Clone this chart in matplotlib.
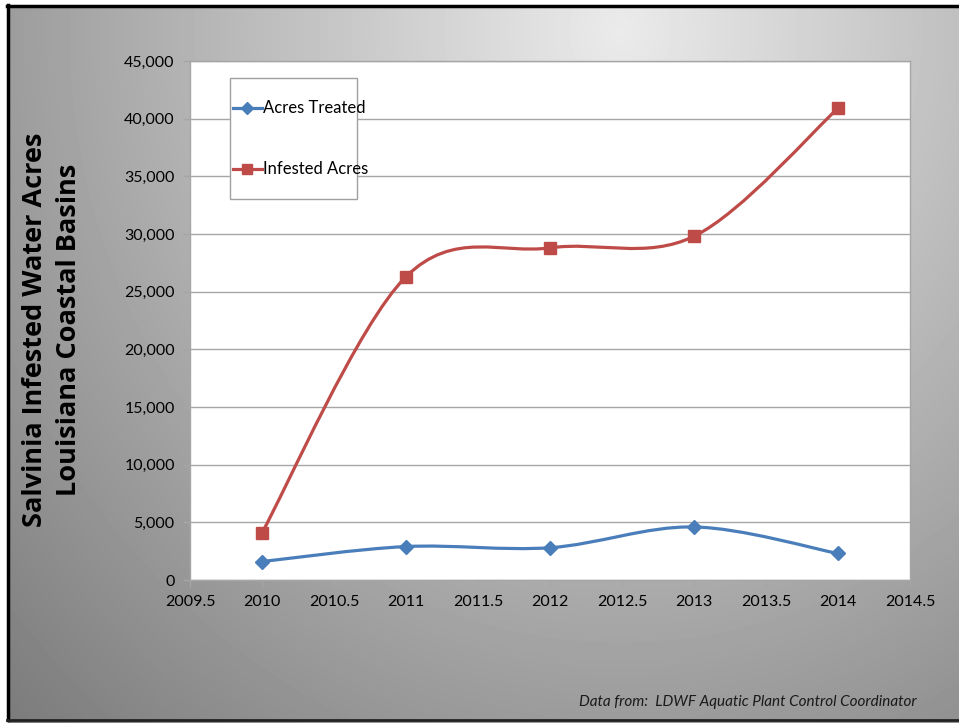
import numpy as np
import matplotlib
matplotlib.use("Agg")
import matplotlib.pyplot as plt
from matplotlib.path import Path
from matplotlib.patches import PathPatch, Rectangle

years = [2010, 2011, 2012, 2013, 2014]
acres_treated = [1600, 2900, 2800, 4600, 2300]
infested_acres = [4100, 26300, 28800, 29800, 40900]
series_names = ["Acres Treated", "Infested Acres"]
y_ticks = list(range(0, 45001, 5000))
x_ticks = [2009.5, 2010, 2010.5, 2011, 2011.5, 2012, 2012.5, 2013, 2013.5, 2014, 2014.5]

BLUE = "#4a7ebb"
RED = "#be4b48"
GRID = "#a6a6a6"

plt.rcParams["font.family"] = ["Lato", "DejaVu Sans"]


def smooth_path(xs, ys):
    # excel-like smoothed line: cubic bezier with catmull-rom control points
    pts = np.column_stack([xs, ys]).astype(float)
    ext = np.vstack([pts[0], pts, pts[-1]])
    verts = [tuple(pts[0])]
    codes = [Path.MOVETO]
    for i in range(1, len(ext) - 2):
        p0, p1, p2, p3 = ext[i - 1], ext[i], ext[i + 1], ext[i + 2]
        c1 = p1 + (p2 - p0) / 6.0
        c2 = p2 - (p3 - p1) / 6.0
        verts += [tuple(c1), tuple(c2), tuple(p2)]
        codes += [Path.CURVE4] * 3
    return Path(verts, codes)


fig = plt.figure(figsize=(9.59, 7.23), dpi=100)
fig.patch.set_facecolor("white")

# gradient background
bg = fig.add_axes([0, 0, 1, 1])
W, H = 959, 723
gx, gy = np.meshgrid(np.arange(W), np.arange(H))
r = np.sqrt(((gx - 620) / 900.0) ** 2 + ((gy - 30) / 1000.0) ** 2)
val = np.clip(0.92 - 0.45 * r, 0, 1)
bg.imshow(val, cmap="gray", vmin=0, vmax=1, extent=[0, W, H, 0], aspect="auto")
bg.set_xlim(0, W)
bg.set_ylim(H, 0)
bg.axis("off")
# white margins and black frame
bg.add_patch(Rectangle((0, 0), 7, H, color="white", zorder=2))
bg.add_patch(Rectangle((0, 0), W, 5, color="white", zorder=2))
bg.plot([7.5, 7.5], [5, 720], color="black", lw=2.5, zorder=3)
bg.plot([7, W], [6, 6], color="black", lw=2.5, zorder=3)
bg.plot([7, W], [720, 720], color="#222222", lw=2, zorder=3)

ax = fig.add_axes([190 / W, 1 - 580 / H, 720 / W, 519 / H])
ax.set_facecolor("white")

styles = [(BLUE, "D", 7, 6), (RED, "s", 8, 7)]
for ys, (color, marker, ms, _) in zip([acres_treated, infested_acres], styles):
    ax.add_patch(PathPatch(smooth_path(years, ys), facecolor="none", edgecolor=color, lw=2.3, zorder=3))
    ax.plot(years, ys, linestyle="none", marker=marker, color=color, markersize=ms, zorder=4)

ax.set_xlim(2009.5, 2014.5)
ax.set_ylim(0, 45000)
ax.set_yticks(y_ticks)
ax.set_yticklabels([f"{v:,}" for v in y_ticks])
ax.set_xticks(x_ticks)
ax.set_xticklabels([f"{v:g}" for v in x_ticks])
ax.grid(axis="y", color=GRID, lw=1)
ax.set_axisbelow(True)
for s in ax.spines.values():
    s.set_color(GRID)
    s.set_linewidth(1)
ax.tick_params(axis="both", colors=GRID, labelcolor="black", labelsize=11.5, length=5, width=1)
ax.tick_params(axis="y", pad=6)
ax.tick_params(axis="x", pad=6)

# legend box, drawn by hand to match the spacing
ax.add_patch(Rectangle((0.0556, 0.734), 0.177, 0.233, transform=ax.transAxes,
                       facecolor="white", edgecolor="#a0a0a0", lw=1, zorder=5))
for ypos, name, (color, marker, _, lms) in zip([0.909, 0.792], series_names, styles):
    ax.plot([0.0597, 0.1], [ypos, ypos], transform=ax.transAxes, color=color, lw=2.3, zorder=6)
    ax.plot([0.079], [ypos], transform=ax.transAxes, color=color, marker=marker,
            markersize=lms, zorder=6, linestyle="none")
    ax.text(0.1014, ypos, name, transform=ax.transAxes, ha="left", va="center",
            fontsize=12, color="black", zorder=6)

fig.text(52 / W, 1 - 330 / H, "Salvinia Infested Water Acres\nLouisiana Coastal Basins",
         rotation=90, ha="center", va="center", fontsize=19.5, fontweight="bold",
         family=["Open Sans", "DejaVu Sans"], linespacing=1.4, color="black")

fig.text(917 / W, 1 - 706 / H, "Data from:  LDWF Aquatic Plant Control Coordinator",
         ha="right", va="baseline", fontsize=11, style="italic", color="#1a1a1a")

fig.savefig("out.png", dpi=100)
